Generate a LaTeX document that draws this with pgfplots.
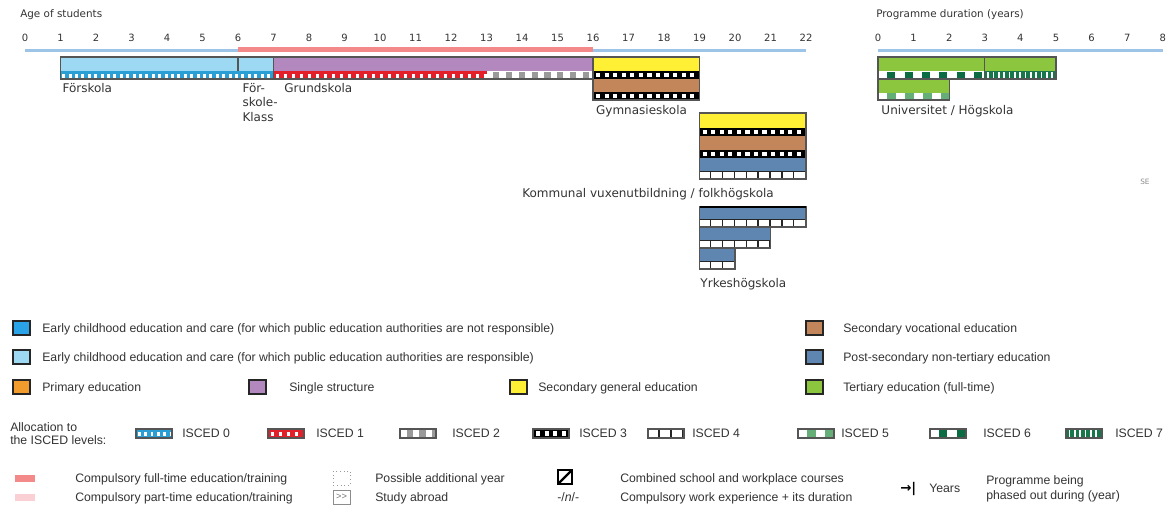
\documentclass[border=0pt]{standalone}
\usepackage{pgfplots}
\pgfplotsset{compat=1.18}
\usepackage{fontspec}
\setmainfont{Liberation Sans}
\newfontfamily\dv{DejaVu Sans}

\definecolor{txt}{HTML}{333333}
\definecolor{bord}{HTML}{555555}
\definecolor{axblue}{HTML}{9DC3E6}
\definecolor{compfull}{HTML}{F4898A}
\definecolor{comppart}{HTML}{FAD0D4}
\definecolor{ecnot}{HTML}{2AA3E8}
\definecolor{ecpub}{HTML}{9ED9F4}
\definecolor{prim}{HTML}{F39C2E}
\definecolor{single}{HTML}{B288BE}
\definecolor{secgen}{HTML}{FFF035}
\definecolor{secvoc}{HTML}{C3865A}
\definecolor{postsec}{HTML}{5F86B0}
\definecolor{tert}{HTML}{8CC63F}
\definecolor{isczero}{HTML}{2A9FD6}
\definecolor{iscone}{HTML}{E3202A}
\definecolor{isctwo}{HTML}{9A9A9A}
\definecolor{iscfive}{HTML}{66AE78}
\definecolor{iscsix}{HTML}{0B6B42}
\definecolor{iscseven}{HTML}{17774A}

\tikzset{
 fg0/.style={draw=white, line width=3.0pt, dash pattern=on 2.2pt off 2.6pt, dash phase=3.5pt},
 fg1/.style={draw=white, line width=3.0pt, dash pattern=on 2.4pt off 3.6pt, dash phase=4pt},
 fg2/.style={draw=isctwo, line width=5.2pt, dash pattern=on 4.6pt off 5pt, dash phase=4.6pt},
 fg3/.style={draw=white, line width=3.4pt, dash pattern=on 3.1pt off 3.3pt, dash phase=4pt},
 fg4/.style={draw=black!85, line width=5.4pt, dash pattern=on 1.1pt off 7.8pt, dash phase=1.1pt},
 fg5/.style={draw=iscfive, line width=5.0pt, dash pattern=on 6.7pt off 6.7pt, dash phase=6.7pt},
 fg6/.style={draw=iscsix, line width=5.2pt, dash pattern=on 6pt off 7pt, dash phase=6pt},
 fg7/.style={draw=white, line width=5.2pt, dash pattern=on 1.2pt off 2.8pt, dash phase=2pt},
 lbl/.style={font=\dv\fontsize{9}{10.9}\selectfont, text=txt, inner sep=0pt},
}

\newcommand{\rect}[5]{\addplot[fill=#5, draw=none] coordinates {(#1,#3) (#2,#3) (#2,#4) (#1,#4)} --cycle;}
\newcommand{\outline}[4]{\addplot[draw=bord, line width=0.9pt] coordinates {(#1,#3) (#2,#3) (#2,#4) (#1,#4)} --cycle;}
\newcommand{\divider}[3]{\addplot[draw=bord, line width=0.9pt] coordinates {(#1,#2) (#1,#3)};}
\newcommand{\fgline}[4]{\addplot[#4] coordinates {(#1,#3) (#2,#3)};}

% legend helpers (pixel coordinates, y downwards)
\newcommand{\swatch}[3]{\filldraw[fill=#3, draw=black!85, line width=0.8pt] (#1,#2-7) rectangle ++(17,14);}
\newcommand{\legisc}[3]{%
 \fill[#2] (#1,429) rectangle ++(36,9);
 \draw[#3] (#1,433.5) -- ++(36,0);
 \draw[draw=bord, line width=0.9pt] (#1,429) rectangle ++(36,9);}

\pgfplotsset{
 eduaxis/.style={
  y=0.75pt, ymin=-506, ymax=-50.5,
  axis x line*=top, axis y line=none,
  x axis line style={draw=none},
  major tick length=0pt,
  xticklabel style={font=\dv\fontsize{7.5}{9}\selectfont, text=txt, inner sep=0pt, yshift=6.6pt},
  /pgf/number format/assume math mode=true,
  clip=false,
 }
}

\begin{document}
\begin{tikzpicture}
\useasboundingbox (0,0) rectangle (874.5pt,-379.5pt);
\clip (0,0) rectangle (874.5pt,-379.5pt);

% ---------------- Age of students ----------------
\begin{axis}[eduaxis,
  at={(18.75pt,-37.875pt)}, anchor=north west,
  x=26.625pt, xmin=0, xmax=22, xtick={0,...,22}]
 \addplot[draw=axblue, line width=1.9pt] coordinates {(0,-50.5) (22,-50.5)};
 \addplot[draw=compfull, line width=3.4pt] coordinates {(6,-49.4) (16,-49.4)};
 % coloured parts
 \rect{1}{7}{-57}{-71}{ecpub}
 \rect{7}{16}{-57}{-71}{single}
 \rect{16}{19}{-57}{-71}{secgen}
 \rect{16}{19}{-79}{-92}{secvoc}
 \rect{19}{22}{-113}{-128}{secgen}
 \rect{19}{22}{-136}{-150}{secvoc}
 \rect{19}{22}{-158}{-171}{postsec}
 \rect{19}{22}{-207}{-219}{postsec}
 \rect{19}{21}{-227}{-240}{postsec}
 \rect{19}{20}{-248}{-261}{postsec}
 % ISCED strips
 \rect{1}{7}{-71}{-79}{isczero} \fgline{1}{7}{-75.6}{fg0}
 \rect{7}{13}{-71}{-79}{iscone} \fgline{7}{13}{-75.6}{fg1}
 \rect{13}{16}{-71}{-79}{white} \fgline{13}{16}{-75}{fg2}
 \rect{16}{19}{-71}{-79}{black} \fgline{16}{19}{-75}{fg3}
 \rect{16}{19}{-92}{-100}{black} \fgline{16}{19}{-96}{fg3}
 \rect{19}{22}{-128}{-136}{black} \fgline{19}{22}{-132}{fg3}
 \rect{19}{22}{-150}{-158}{black} \fgline{19}{22}{-154}{fg3}
 \rect{19}{22}{-171}{-179}{white} \fgline{19}{22}{-175}{fg4} \fgline{19}{22}{-171.4}{draw=black!85, line width=0.8pt}
 \rect{19}{22}{-219}{-227}{white} \fgline{19}{22}{-223}{fg4} \fgline{19}{22}{-219.4}{draw=black!85, line width=0.8pt}
 \rect{19}{21}{-240}{-248}{white} \fgline{19}{21}{-244}{fg4} \fgline{19}{21}{-240.4}{draw=black!85, line width=0.8pt}
 \rect{19}{20}{-261}{-269}{white} \fgline{19}{20}{-265}{fg4} \fgline{19}{20}{-261.4}{draw=black!85, line width=0.8pt}
 % outlines
 \outline{1}{7}{-57}{-79} \divider{6}{-57}{-71}
 \outline{7}{16}{-57}{-79}
 \outline{16}{19}{-57}{-100}
 \outline{19}{22}{-113}{-179}
 \outline{19}{22}{-207}{-227}
 \outline{19}{21}{-227}{-248}
 \outline{19}{20}{-248}{-269}
 \addplot[draw=black, line width=1.3pt] coordinates {(19,-207) (22,-207)};
 % labels
 \node[lbl, anchor=base west] at (axis cs:1.05,-93) {Förskola};
 \node[lbl, anchor=north west, align=left, font=\dv\fontsize{9}{10.9}\selectfont] at (axis cs:6.12,-83) {För-\\skole-\\Klass};
 \node[lbl, anchor=base west] at (axis cs:7.3,-93) {Grundskola};
 \node[lbl, anchor=base west] at (axis cs:16.08,-115) {Gymnasieskola};
 \node[lbl, anchor=base] at (axis cs:17.55,-198) {Kommunal vuxenutbildning / folkhögskola};
 \node[lbl, anchor=base west] at (axis cs:19.02,-288) {Yrkeshögskola};
\end{axis}

% ---------------- Programme duration ----------------
\begin{axis}[eduaxis,
  at={(658.5pt,-37.875pt)}, anchor=north west,
  x=26.7pt, xmin=0, xmax=8, xtick={0,...,8}]
 \addplot[draw=axblue, line width=1.9pt] coordinates {(0,-50.5) (8,-50.5)};
 \rect{0}{5}{-57}{-71}{tert}
 \rect{0}{2}{-79}{-93}{tert}
 \rect{0}{3}{-71}{-79}{white} \fgline{0}{3}{-75}{fg6}
 \rect{3}{5}{-71}{-79}{iscseven} \fgline{3}{5}{-75}{fg7}
 \rect{0}{2}{-93}{-100}{white} \fgline{0}{2}{-96.5}{fg5}
 \outline{0}{5}{-57}{-79} \divider{3}{-57}{-79}
 \outline{0}{2}{-79}{-100}
 \node[lbl, anchor=base west] at (axis cs:0.09,-115) {Universitet / Högskola};
\end{axis}

% ---------------- titles and legend (pixel coordinates) ----------------
\begin{scope}[x=0.75pt, y=-0.75pt, every node/.style={inner sep=0pt, text=txt}]
 \node[anchor=base west, font=\dv\fontsize{7.8}{9}\selectfont] at (20,18) {Age of students};
 \node[anchor=base west, font=\dv\fontsize{7.8}{9}\selectfont] at (876,18) {Programme duration (years)};
 \node[anchor=base west, font=\dv\fontsize{5.5}{6}\selectfont, text=black!45] at (1140,184) {SE};

 \begin{scope}[every node/.style={inner sep=0pt, text=txt, anchor=base west, font=\fontsize{9.2}{11}\selectfont}]
  \swatch{13}{328}{ecnot}   \node at (42,332) {Early childhood education and care (for which public education authorities are not responsible)};
  \swatch{13}{357}{ecpub}   \node at (42,361) {Early childhood education and care (for which public education authorities are responsible)};
  \swatch{13}{387}{prim}    \node at (42,391) {Primary education};
  \swatch{249}{387}{single} \node at (289,391) {Single structure};
  \swatch{510}{387}{secgen} \node at (538,391) {Secondary general education};
  \swatch{806}{328}{secvoc} \node at (843,332) {Secondary vocational education};
  \swatch{806}{357}{postsec}\node at (843,361) {Post-secondary non-tertiary education};
  \swatch{806}{387}{tert}   \node at (843,391) {Tertiary education (full-time)};

  \node at (10,431) {Allocation to};
  \node at (10,444) {the ISCED levels:};
  \legisc{136}{isczero}{fg0} \node at (182,437) {ISCED 0};
  \legisc{268}{iscone}{fg1}  \node at (316,437) {ISCED 1};
  \legisc{400}{white}{fg2}   \node at (452,437) {ISCED 2};
  \legisc{533}{black}{fg3}   \node at (579,437) {ISCED 3};
  \legisc{648}{white}{fg4}   \node at (692,437) {ISCED 4};
  \legisc{798}{white}{fg5}   \node at (841,437) {ISCED 5};
  \legisc{930}{white}{fg6}   \node at (983,437) {ISCED 6};
  \legisc{1066}{iscseven}{fg7} \node at (1115,437) {ISCED 7};

  \fill[compfull] (15,475) rectangle (35,482);
  \node at (75,482) {Compulsory full-time education/training};
  \fill[comppart] (15,494) rectangle (35,501);
  \node at (75,501) {Compulsory part-time education/training};
  \draw[black!40, dotted, line width=0.7pt] (333,471) rectangle (350,485);
  \node at (375,482) {Possible additional year};
  \draw[black!45, line width=0.6pt] (333,490) rectangle (350,504);
  \node[anchor=center, font=\fontsize{7}{8}\selectfont, text=black!55] at (341.5,497) {{>}{>}};
  \node at (375,501) {Study abroad};
  \draw[black, line width=1.4pt] (558,470) rectangle (572,484);
  \draw[black, line width=1.8pt] (558,484) -- (572,470);
  \node at (620,482) {Combined school and workplace courses};
  \node at (557,501) {-/\textit{n}/-};
  \node at (620,501) {Compulsory work experience + its duration};
  \node[font=\dv\bfseries\fontsize{10}{12}\selectfont, text=black] at (900,492) {→|};
  \node at (929,492) {Years};
  \node at (986,484) {Programme being};
  \node at (986,499) {phased out during (year)};
 \end{scope}
\end{scope}
\end{tikzpicture}
\end{document}
